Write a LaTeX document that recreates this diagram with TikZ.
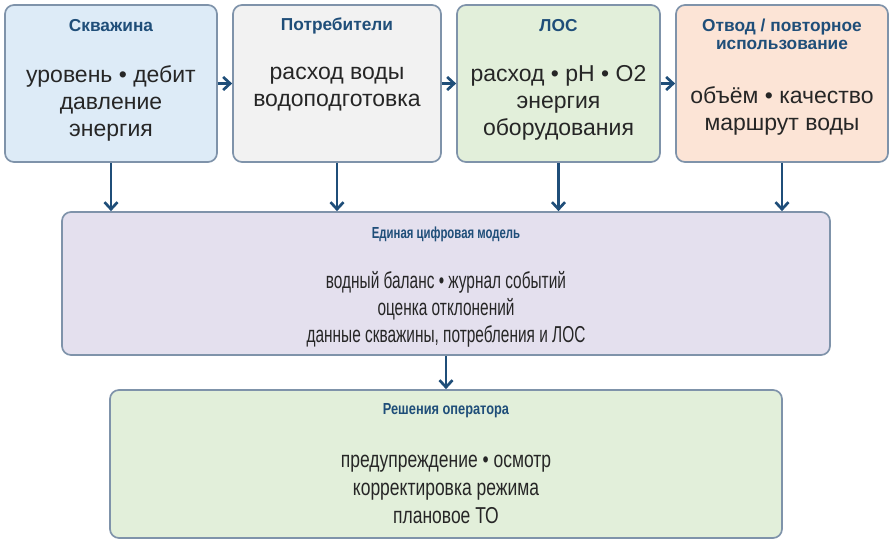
\documentclass[tikz,border=0pt]{standalone}
\usepackage{fontspec}
\setmainfont{Liberation Sans}
\newfontfamily\condModel[FakeStretch=0.67]{Liberation Sans}
\newfontfamily\condDec[FakeStretch=0.76]{Liberation Sans}
\newfontfamily\condModelT[FakeStretch=0.71]{Liberation Sans}
\newfontfamily\condDecT[FakeStretch=0.80]{Liberation Sans}
\usetikzlibrary{arrows.meta}
\definecolor{bordercol}{HTML}{7F93AA}
\definecolor{titlecol}{HTML}{1F4E79}
\definecolor{arrowcol}{HTML}{1F4E79}
\definecolor{fillblue}{HTML}{DDEBF7}
\definecolor{fillgray}{HTML}{F2F2F2}
\definecolor{fillgreen}{HTML}{E2EFDA}
\definecolor{fillpeach}{HTML}{FCE4D6}
\definecolor{filllav}{HTML}{E4E0EE}
\definecolor{bodycol}{HTML}{262626}
\tikzset{
  boxnode/.style={draw=bordercol, line width=1.7pt, rounded corners=9pt, inner sep=0pt},
  titletext/.style={text=titlecol, font=\fontsize{17.3}{17.5}\selectfont\bfseries, align=center, inner sep=0pt},
  bodytext/.style={text=bodycol, font=\fontsize{23}{27}\selectfont, align=center, inner sep=0pt},
  flow/.style={draw=arrowcol, line width=2.7pt, -{Straight Barb[length=7pt,width=13pt,line width=2.7pt]}}
}
\begin{document}
\begin{tikzpicture}[x=1pt,y=-1pt]
\useasboundingbox (0,0) rectangle (892,544);
% boxes
\node[boxnode, fill=fillblue, minimum width=212pt, minimum height=157pt] (skv) at (111,83.5) {};
\node[boxnode, fill=fillgray, minimum width=208pt, minimum height=157pt] (potr) at (337,83.5) {};
\node[boxnode, fill=fillgreen, minimum width=203pt, minimum height=157pt] (los) at (558.5,83.5) {};
\node[boxnode, fill=fillpeach, minimum width=212pt, minimum height=157pt] (otv) at (782,83.5) {};
\node[boxnode, fill=filllav, minimum width=768pt, minimum height=143pt] (model) at (446,283.5) {};
\node[boxnode, fill=fillgreen, minimum width=672pt, minimum height=148pt] (dec) at (446,464) {};
% titles
\node[titletext] (t1) at (111,26) {Скважина};
\node[titletext] (t2) at (337,26) {Потребители};
\node[titletext] (t3) at (558.5,26) {ЛОС};
\node[titletext] (t4) at (782,34.5) {Отвод / повторное\\использование};
\node[titletext, font=\condModelT\fontsize{16}{17}\selectfont\bfseries] (t5) at (446,234) {Единая цифровая модель};
\node[titletext, font=\condDecT\fontsize{16}{17}\selectfont\bfseries] (t6) at (446,411) {Решения оператора};
% bodies
\node[bodytext] (b1) at (111,103) {уровень • дебит\\давление\\энергия};
\node[bodytext] (b2) at (337,89.5) {расход воды\\водоподготовка};
\node[bodytext] (b3) at (558.5,103) {расход • pH • O2\\энергия\\оборудования};
\node[bodytext] (b4) at (782,110.5) {объём • качество\\маршрут воды};
\node[bodytext, font=\condModel\fontsize{23}{27}\selectfont] (b5) at (446,309) {водный баланс • журнал событий\\оценка отклонений\\данные скважины, потребления и ЛОС};
\node[bodytext, font=\condDec\fontsize{23}{28}\selectfont] (b6) at (446,489) {предупреждение • осмотр\\корректировка режима\\плановое ТО};
% arrows
\draw[flow] (skv.east) -- (potr.west);
\draw[flow] (potr.east) -- (los.west);
\draw[flow] (los.east) -- (otv.west);
\draw[flow] (skv.south) -- (skv.south |- model.north);
\draw[flow] (potr.south) -- (potr.south |- model.north);
\draw[flow] (los.south) -- (los.south |- model.north);
\draw[flow] (otv.south) -- (otv.south |- model.north);
\draw[flow] (model.south) -- (dec.north);
\end{tikzpicture}
\end{document}
